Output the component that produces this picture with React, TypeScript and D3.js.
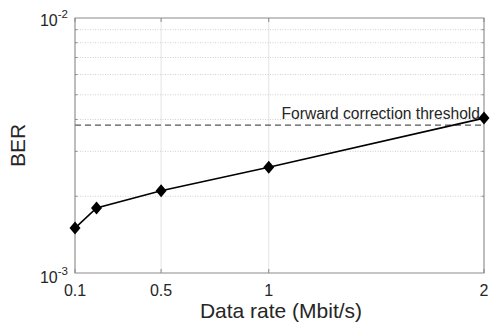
import React from "react";
import * as d3 from "d3";

const dataRates = [0.1, 0.2, 0.5, 1, 2];
const berValues = [1.5e-3, 1.8e-3, 2.1e-3, 2.6e-3, 4.05e-3];
const xTicks = [0.1, 0.5, 1, 2];
const xTickLabels = ["0.1", "0.5", "1", "2"];
const yMajor = [1e-3, 1e-2];
const yMajorExp = ["-3", "-2"];
const yMinor = [2e-3, 3e-3, 4e-3, 5e-3, 6e-3, 7e-3, 8e-3, 9e-3];
const threshold = 3.8e-3;
const thresholdLabel = "Forward correction threshold";

const W = 493, H = 322;
const L = 75, R = 484, T = 18, B = 273;
const FONT = "'Liberation Sans', Arial, Helvetica, sans-serif";

export default function App() {
  const x = d3.scaleLinear().domain([0.1, 2]).range([L, R]);
  const y = d3.scaleLog().domain([1e-3, 1e-2]).range([B, T]);
  const line = d3.line<number>().x((_, i) => x(dataRates[i])).y((d) => y(d));
  const diamond = (cx: number, cy: number) =>
    `M${cx},${cy - 6.5}L${cx + 5.5},${cy}L${cx},${cy + 6.5}L${cx - 5.5},${cy}Z`;
  const axisColor = "#8a8a8a";
  const textColor = "#262626";
  return (
    <svg width={W} height={H} style={{ position: "absolute", left: 0, top: 0, background: "#fff" }}>
      <rect x={0} y={0} width={W} height={H} fill="#fff" />
      {/* vertical grid */}
      {xTicks.map((t) => (
        <line key={"vg" + t} x1={x(t)} x2={x(t)} y1={T} y2={B} stroke="#e3e3e3" strokeWidth={1} />
      ))}
      {/* horizontal minor grid */}
      {yMinor.map((t) => (
        <line key={"hg" + t} x1={L} x2={R} y1={y(t)} y2={y(t)} stroke="#c4c4c4" strokeWidth={0.8} strokeDasharray="1,1.5" />
      ))}
      {/* threshold */}
      <line x1={L} x2={R} y1={y(threshold)} y2={y(threshold)} stroke="#555" strokeWidth={1.2} strokeDasharray="6,4" />
      {/* box */}
      <rect x={L} y={T} width={R - L} height={B - T} fill="none" stroke={axisColor} strokeWidth={1} />
      {/* x ticks */}
      {xTicks.map((t) => (
        <g key={"xt" + t}>
          <line x1={x(t)} x2={x(t)} y1={B} y2={B - 4} stroke={axisColor} />
          <line x1={x(t)} x2={x(t)} y1={T} y2={T + 4} stroke={axisColor} />
        </g>
      ))}
      {/* y minor ticks */}
      {yMinor.map((t) => (
        <g key={"yt" + t}>
          <line x1={L} x2={L + 2.5} y1={y(t)} y2={y(t)} stroke={axisColor} />
          <line x1={R} x2={R - 2.5} y1={y(t)} y2={y(t)} stroke={axisColor} />
        </g>
      ))}
      {/* x tick labels */}
      {xTicks.map((t, i) => (
        <text key={"xl" + t} x={x(t)} y={B + 23} textAnchor="middle" fontFamily={FONT} fontSize={16} fill={textColor}>
          {xTickLabels[i]}
        </text>
      ))}
      {/* y tick labels */}
      {yMajor.map((t, i) => (
        <text key={"yl" + t} x={68} y={y(t) + (i === 0 ? 10 : 8)} textAnchor="end" fontFamily={FONT} fontSize={16} fill={textColor}>
          10
          <tspan dy={-8} fontSize={11.5}>{yMajorExp[i]}</tspan>
        </text>
      ))}
      {/* axis labels */}
      <text x={281} y={317.5} textAnchor="middle" fontFamily={FONT} fontSize={21} fill={textColor}>
        Data rate (Mbit/s)
      </text>
      <text transform={`translate(25,${(T + B) / 2}) rotate(-90)`} textAnchor="middle" fontFamily={FONT} fontSize={21} fill={textColor}>
        BER
      </text>
      {/* annotation */}
      <text x={480} y={y(threshold) - 6} textAnchor="end" fontFamily={FONT} fontSize={15.6} fill={textColor}>
        {thresholdLabel}
      </text>
      {/* data line */}
      <path d={line(berValues) || ""} fill="none" stroke="#000" strokeWidth={1.6} />
      {berValues.map((v, i) => (
        <path key={"m" + i} d={diamond(x(dataRates[i]), y(v))} fill="#000" />
      ))}
    </svg>
  );
}
